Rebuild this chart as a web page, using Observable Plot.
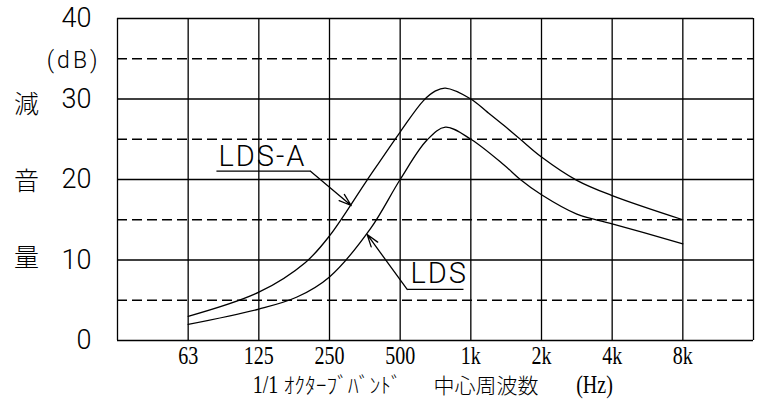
<!DOCTYPE html>
<html><head><meta charset="utf-8">
<script src="https://cdn.jsdelivr.net/npm/d3@7"></script>
<script src="https://cdn.jsdelivr.net/npm/@observablehq/plot@0.6"></script>
<style>body{margin:0;background:#fff}svg{display:block}</style>
</head><body><div id="chart"></div>
<script>
// Octave band tick labels (x index 0..7)
const octaveLabels = ["63","125","250","500","1k","2k","4k","8k"];
const octaveIndex = [0,1,2,3,4,5,6,7];
const xGrid = [-1,0,1,2,3,4,5,6,7,8];
const ySolid = [0,10,20,30,40];
const yDashed = [5,15,25,35];
const yTickLabels = [0,10,20,30,40];
const yTitleChars = ["減","音","量"];
const yTitlePos = [29.3,19.75,10.2];

// LDS-A (upper curve): band position (octave index) and attenuation (dB)
const ldsA_x = [0,1,1.66,2,2.53,3,3.33,3.5,3.64,4,4.23,4.47,4.70,5,5.5,6,7];
const ldsA_y = [3.0,6.0,9.7,13.0,19.9,25.9,29.8,31.0,31.35,30.0,28.4,26.7,25.0,22.8,19.9,18.0,15.0];
// LDS (lower curve)
const lds_x = [0,1,1.54,2,2.58,3,3.38,3.64,4,4.47,4.70,5,5.5,6,7];
const lds_y = [2.0,3.9,5.4,7.9,13.9,20.0,24.9,26.5,25.0,21.8,20.0,18.1,15.7,14.5,12.0];

// Annotation labels (data coordinates)
const labelText = ["LDS-A","LDS"];
const labelX = [0.43,3.146];
const labelY = [22.86,8.32];
const underlineX1 = [0.40,3.099];
const underlineX2 = [1.731,3.896];
const underlineY = [21.03,6.34];
const arrowFromX = [1.731,3.099];
const arrowToX = [2.307,2.533];
const arrowToY = [16.77,13.17];

const ldsARows = ldsA_x.map((x,i)=>({x, y: ldsA_y[i]}));
const ldsRows = lds_x.map((x,i)=>({x, y: lds_y[i]}));
const labels = labelText.map((t,i)=>({t, x: labelX[i], y: labelY[i]}));
const underlines = labelText.map((t,i)=>({x1: underlineX1[i], x2: underlineX2[i], y: underlineY[i]}));
const arrows = labelText.map((t,i)=>({x1: arrowFromX[i], y1: underlineY[i], x2: arrowToX[i], y2: arrowToY[i]}));
const octaves = octaveLabels.map((t,i)=>({t, x: octaveIndex[i]}));
const yTitle = yTitleChars.map((c,i)=>({c, y: yTitlePos[i]}));

const ink = "#000";
const lw = 1.3;
const serif = "'Liberation Serif', 'DejaVu Serif', serif";
const cjk = "'Noto Sans CJK JP', sans-serif";
const sans = "Roboto, 'DejaVu Sans', sans-serif";

const chart = Plot.plot({
  width: 759, height: 408,
  marginLeft: 117, marginRight: 6, marginTop: 18, marginBottom: 68,
  x: {domain: [-1, 8], axis: null},
  y: {domain: [0, 40], axis: null},
  style: {background: "#fff", overflow: "visible"},
  marks: [
    Plot.ruleY(yDashed, {stroke: ink, strokeWidth: lw, strokeDasharray: "10,5"}),
    Plot.ruleY(ySolid, {stroke: ink, strokeWidth: lw}),
    Plot.ruleX(xGrid, {stroke: ink, strokeWidth: lw}),
    Plot.line(ldsARows, {x: "x", y: "y", curve: "catmull-rom", stroke: ink, strokeWidth: lw}),
    Plot.line(ldsRows, {x: "x", y: "y", curve: "catmull-rom", stroke: ink, strokeWidth: lw}),
    Plot.link(underlines, {x1: "x1", x2: "x2", y1: "y", y2: "y", stroke: ink, strokeWidth: lw}),
    Plot.arrow(arrows, {x1: "x1", y1: "y1", x2: "x2", y2: "y2", bend: 0, headLength: 15, headAngle: 36, stroke: ink, strokeWidth: lw}),
    Plot.text(labels, {x: "x", y: "y", text: "t", textAnchor: "start", fontFamily: sans, fontWeight: 300, fontSize: 29, fill: ink, ariaDescription: "lab"}),
    // y tick labels
    Plot.text(yTickLabels, {y: d => d, text: d => String(d), frameAnchor: "left", dx: -26, textAnchor: "end", fontFamily: sans, fontWeight: 300, fontSize: 27, fill: ink, ariaDescription: "ytick"}),
    Plot.text(["(dB)"], {y: () => 34.8, text: d => d, frameAnchor: "left", dx: -17, textAnchor: "end", fontFamily: sans, fontWeight: 300, fontSize: 23, fill: ink, ariaDescription: "db"}),
    Plot.text(yTitle, {y: "y", text: "c", frameAnchor: "left", dx: -91, textAnchor: "middle", fontFamily: cjk, fontWeight: 300, fontSize: 25, fill: ink}),
    // x tick labels
    Plot.text(octaves, {x: "x", text: "t", frameAnchor: "bottom", dy: 23, textAnchor: "middle", fontFamily: serif, fontSize: 26, fill: ink, ariaDescription: "cond"}),
    // x title
    Plot.text(["1/1"], {text: d => d, frameAnchor: "bottom-left", dx: 148, dy: 52, textAnchor: "middle", fontFamily: serif, fontSize: 26, fill: ink, ariaDescription: "cond"}),
    Plot.text(["ｵｸﾀｰﾌﾞﾊﾞﾝﾄﾞ"], {text: d => d, frameAnchor: "bottom-left", dx: 166, dy: 52, textAnchor: "start", fontFamily: cjk, fontWeight: 300, fontSize: 21.5, fill: ink}),
    Plot.text(["中心周波数"], {text: d => d, frameAnchor: "bottom-left", dx: 316, dy: 52, textAnchor: "start", fontFamily: cjk, fontWeight: 300, fontSize: 21, fill: ink}),
    Plot.text(["(Hz)"], {text: d => d, frameAnchor: "bottom-left", dx: 477, dy: 52, textAnchor: "middle", fontFamily: serif, fontSize: 26, fill: ink, ariaDescription: "cond"})
  ]
});

chart.querySelectorAll('g[aria-description="cond"] text').forEach(t => {
  t.setAttribute("transform", (t.getAttribute("transform") || "") + " scale(0.77,1)");
});
chart.querySelectorAll('g[aria-description="lab"]').forEach(g => g.style.letterSpacing = "2px");
chart.querySelectorAll('g[aria-description="db"]').forEach(g => g.style.letterSpacing = "3px");
document.getElementById("chart").appendChild(chart);
</script>
</body></html>
